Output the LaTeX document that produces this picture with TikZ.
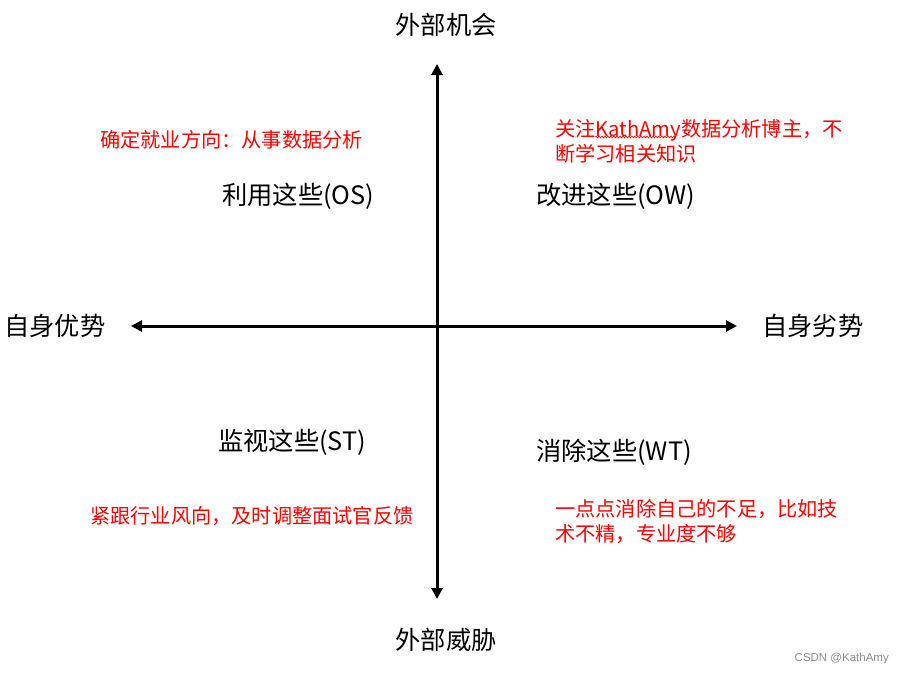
\documentclass[tikz,border=0pt]{standalone}
\usepackage{fontspec}
\setmainfont{Noto Sans CJK SC}
\usetikzlibrary{arrows.meta,decorations.pathmorphing}
\definecolor{redtxt}{RGB}{255,0,0}
\definecolor{wmgray}{RGB}{140,140,140}
\tikzset{
  axis/.style={line width=3pt,-{Triangle[length=11pt,width=11pt]}},
  big/.style={font=\fontsize{25.3}{29}\selectfont,inner sep=0pt,anchor=west},
  note/.style={font=\fontsize{20.2}{25}\selectfont,inner sep=0pt,anchor=west,text=redtxt,align=left},
}
\begin{document}
\begin{tikzpicture}[x=1pt,y=-1pt]
\useasboundingbox (0,0) rectangle (905,675);
% axes
\coordinate (c) at (437,326);
\coordinate (top) at (437,64);
\coordinate (bot) at (437,599);
\coordinate (lft) at (131,326);
\coordinate (rgt) at (737,326);
\draw[axis] (c) -- (top);
\draw[axis] (c) -- (bot);
\draw[axis] (c) -- (lft);
\draw[axis] (c) -- (rgt);
% axis labels
\node[big,anchor=center] (opp) at (446,25) {外部机会};
\node[big,anchor=center] (thr) at (446,640) {外部威胁};
\node[big] (str) at (4,326) {自身优势};
\node[big] (wea) at (762,326) {自身劣势};
% quadrant labels
\node[big] (os) at (222,196) {利用这些(OS)};
\node[big] (ow) at (536,196) {改进这些(OW)};
\node[big] (st) at (218,442) {监视这些(ST)};
\node[big] (wt) at (536,452) {消除这些(WT)};
% notes
\node[note] (n1) at (100,140) {确定就业方向：从事数据分析};
\node[note] (n2) at (555,141.5) {关注KathAmy数据分析博主，不\\断学习相关知识};
\node[note] (n3) at (90,516) {紧跟行业风向，及时调整面试官反馈};
\node[note] (n4) at (555,522) {一点点消除自己的不足，比如技\\术不精，专业度不够};
% spell-check squiggle
\coordinate (sq1) at (595,137);
\coordinate (sq2) at (675,137);
\draw[redtxt,line width=0.6pt,decorate,decoration={snake,amplitude=1pt,segment length=3pt}] (sq1) -- (sq2);
% watermark
\node[inner sep=0pt,anchor=east,text=wmgray,font={\fontspec{Liberation Sans}\fontsize{11.5}{13}\selectfont}] (wm) at (889,659) {CSDN @KathAmy};
\end{tikzpicture}
\end{document}
